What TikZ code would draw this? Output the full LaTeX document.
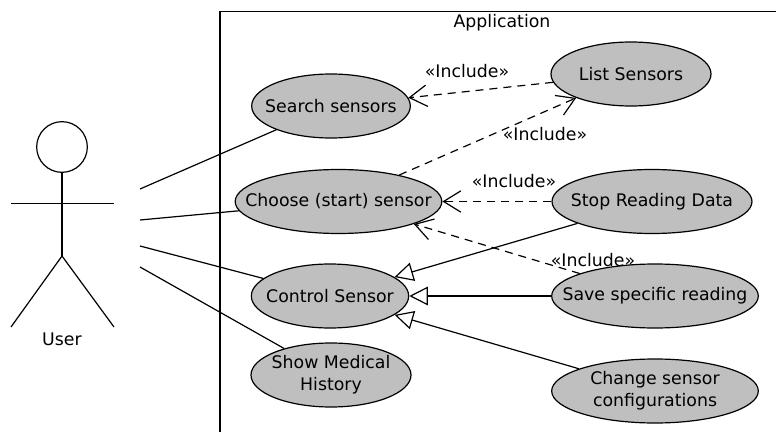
\documentclass[tikz,border=0pt]{standalone}
\usepackage{fontspec}
\setmainfont{DejaVu Sans}
\usetikzlibrary{shapes.geometric}
\usetikzlibrary{arrows.meta}
\usetikzlibrary{positioning}
\tikzset{
	usecase/.style={draw,ellipse,fill=black!25,line width=0.9pt,inner xsep=-30pt,inner ysep=-15pt,minimum height=48pt,align=center,font=\fontsize{13}{16.5}\selectfont},
	actorline/.style={line width=0.9pt},
	assoc/.style={line width=0.9pt},
	include/.style={line width=0.9pt,dash pattern=on 6pt off 4.5pt,-{Straight Barb[length=13pt,width=16pt,line width=0.9pt]}},
	generalize/.style={line width=0.9pt,-{Triangle[open,fill=white,length=14pt,width=14pt,line width=0.9pt]}},
	lbl/.style={font=\fontsize{13}{16}\selectfont,inner sep=0pt}
}
\begin{document}
\begin{tikzpicture}[x=0.75pt,y=-0.75pt]
	\useasboundingbox (0,0) rectangle (776,432);
	% system boundary
	\draw[line width=0.9pt] (220,432) -- (220,11.5) -- (776,11.5);
	\node[lbl] (app) at (502,22.5) {Application};
	% actor
	\node[draw,circle,line width=0.9pt,minimum size=38pt,inner sep=0pt] (head) at (62,147) {};
	\coordinate (hip) at (62,256);
	\coordinate (armL) at (11,203.5);
	\coordinate (armR) at (114,203.5);
	\coordinate (footL) at (11,327);
	\coordinate (footR) at (114,327);
	\draw[actorline] (head) -- (hip);
	\draw[actorline] (armL) -- (armR);
	\draw[actorline] (footL) -- (hip) -- (footR);
	\node[lbl] (user) at (62,339) {User};
	% use cases
	\node[usecase,minimum width=119pt] (search) at (331,106) {Search sensors};
	\node[usecase,minimum width=120pt] (list) at (631,74) {List Sensors};
	\node[usecase,minimum width=155pt] (choose) at (338.5,201.5) {Choose (start) sensor};
	\node[usecase,minimum width=150pt] (stop) at (652,201.5) {Stop Reading Data};
	\node[usecase,minimum width=118pt] (control) at (330,296) {Control Sensor};
	\node[usecase,minimum width=155pt] (save) at (655,296) {Save specific reading};
	\node[usecase,minimum width=120pt] (history) at (331,375) {Show Medical\\History};
	\node[usecase,minimum width=155pt] (change) at (655,391) {Change sensor\\configurations};
	% associations
	\coordinate (u1) at (140,189);
	\coordinate (u2) at (140,220);
	\coordinate (u3) at (140,246);
	\coordinate (u4) at (140,267);
	\draw[assoc] (u1) -- (search);
	\draw[assoc] (u2) -- (choose);
	\draw[assoc] (u3) -- (control);
	\draw[assoc] (u4) -- (history);
	% includes
	\draw[include] (list) -- (search);
	\draw[include] (choose) -- (list);
	\draw[include] (stop) -- (choose);
	\draw[include] (save) -- (choose);
	\node[lbl] (inc1) at (467,71) {«Include»};
	\node[lbl] (inc2) at (545,134) {«Include»};
	\node[lbl] (inc3) at (514,181) {«Include»};
	\node[lbl] (inc4) at (593,260) {«Include»};
	% generalizations
	\draw[generalize] (stop) -- (control);
	\draw[generalize] (save) -- (control);
	\draw[generalize] (change) -- (control);
\end{tikzpicture}
\end{document}
